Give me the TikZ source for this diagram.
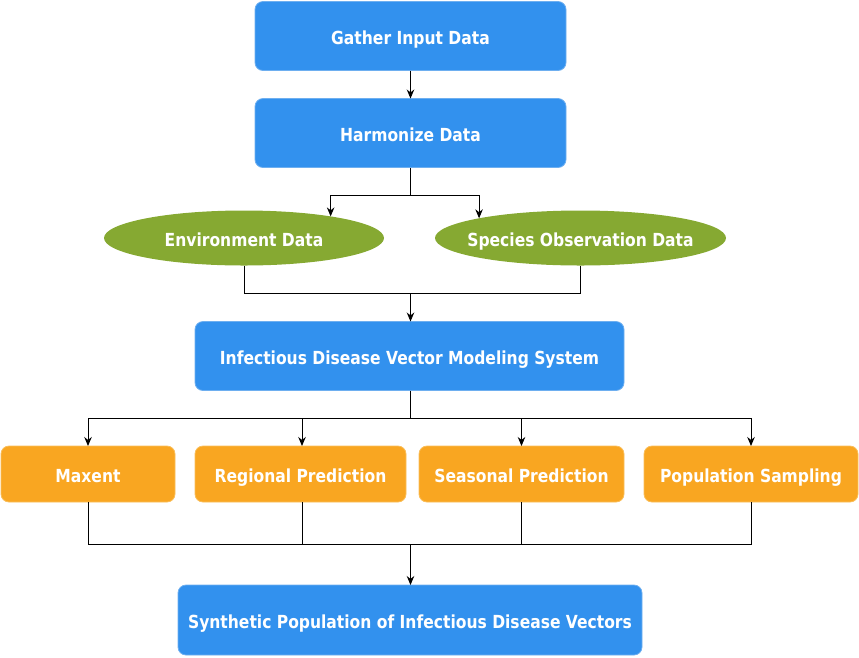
\documentclass[tikz,border=0pt]{standalone}
\usepackage{fontspec}
\setmainfont{DejaVu Sans Condensed}[FakeStretch=0.96]
\usetikzlibrary{arrows.meta,shapes.geometric,calc}
\definecolor{boxblue}{RGB}{50,145,238}
\definecolor{boxblueedge}{RGB}{110,175,240}
\definecolor{boxorange}{RGB}{249,166,33}
\definecolor{boxorangeedge}{RGB}{250,190,90}
\definecolor{ellgreen}{RGB}{134,169,50}
\begin{document}
\begin{tikzpicture}[x=1pt,y=-1pt,
  lab/.style={font=\fontsize{18}{21}\selectfont\bfseries, text=white, text height=16pt, text depth=0pt},
  bluebox/.style={lab, rectangle, rounded corners=8pt, fill=boxblue, draw=boxblueedge, line width=0.8pt, inner sep=0pt, outer sep=0pt},
  orangebox/.style={lab, rectangle, rounded corners=8pt, fill=boxorange, draw=boxorangeedge, line width=0.8pt, inner sep=0pt, outer sep=0pt, minimum height=56pt},
  greenell/.style={lab, ellipse, fill=ellgreen, draw=none, inner sep=0pt, outer sep=0pt, minimum height=55pt},
  conn/.style={draw=black, line width=0.9pt},
  arr/.style={conn, -{Stealth[length=9pt,width=7.5pt]}}
]
\path[use as bounding box] (0,0) rectangle (859,657);

\node[bluebox, minimum width=311pt, minimum height=69pt] (gather) at (410.5,36) {Gather Input Data};
\node[bluebox, minimum width=311pt, minimum height=69pt] (harm) at (410.5,133) {Harmonize Data};
\node[greenell, minimum width=280pt] (env) at (244,238) {\makebox[0pt]{Environment Data}};
\node[greenell, minimum width=291pt] (spec) at (580.5,238) {\makebox[0pt]{Species Observation Data}};
\node[bluebox, minimum width=429pt, minimum height=69pt] (ivms) at (409.5,356) {Infectious Disease Vector Modeling System};
\node[orangebox, minimum width=174pt] (maxent) at (88,474) {Maxent};
\node[orangebox, minimum width=211pt] (reg) at (300.5,474) {Regional Prediction};
\node[orangebox, minimum width=205pt] (seas) at (521.5,474) {Seasonal Prediction};
\node[orangebox, minimum width=214pt] (pop) at (751,474) {Population Sampling};
\node[bluebox, minimum width=464pt, minimum height=70pt] (synth) at (410,620) {Synthetic Population of Infectious Disease Vectors};

\coordinate (j1) at (410.5,195);
\coordinate (j2) at (410.5,293);
\coordinate (j3) at (410.5,418);
\coordinate (j4) at (410.5,544);

\draw[arr] (gather) -- (harm);

\draw[conn] (harm.south) -- (j1);
\draw[arr] (j1) -| (env.14);
\draw[arr] (j1) -| (spec.169);

\draw[conn] (env.south) |- (j2);
\draw[conn] (spec.south) |- (j2);
\draw[arr] (j2) -- (j2 |- ivms.north);

\draw[conn] (ivms.south -| j3) -- (j3);
\draw[arr] (j3) -| (maxent.north);
\draw[arr] (j3) -| ([xshift=1.5pt]reg.north);
\draw[arr] (j3) -| (seas.north);
\draw[arr] (j3) -| (pop.north);

\draw[conn] (maxent.south) |- (j4);
\draw[conn] ([xshift=1.5pt]reg.south) |- (j4);
\draw[conn] (seas.south) |- (j4);
\draw[conn] (pop.south) |- (j4);
\draw[arr] (j4) -- (j4 |- synth.north);
\end{tikzpicture}
\end{document}
